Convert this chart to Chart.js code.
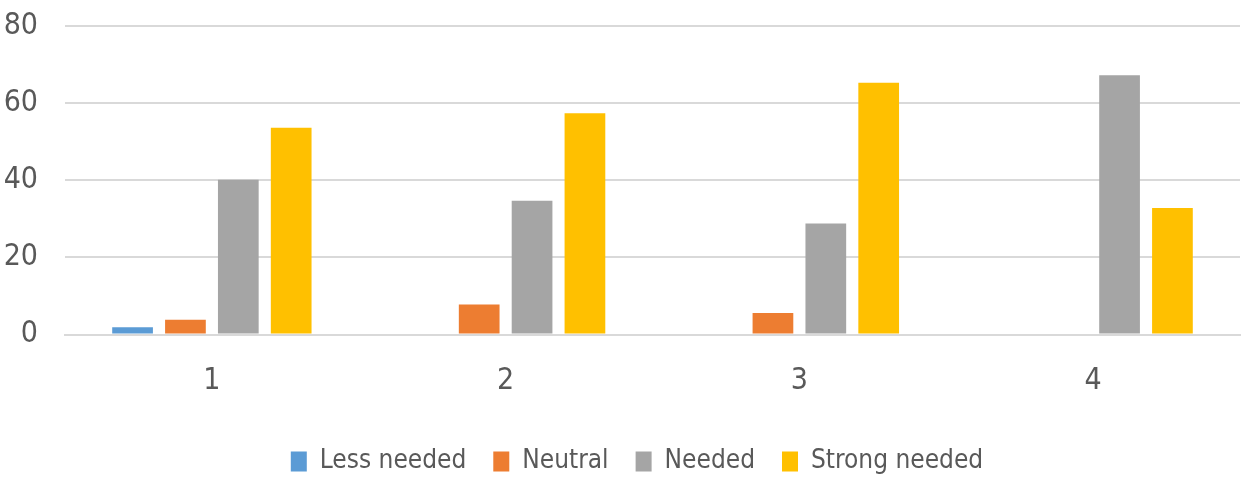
<!DOCTYPE html>
<html>
<head>
<meta charset="utf-8">
<script src="https://cdn.jsdelivr.net/npm/chart.js@4/dist/chart.umd.min.js"></script>
<style>
  html, body { margin: 0; padding: 0; background: #fff; }
  #wrap { width: 1242px; height: 477px; position: relative; }
</style>
</head>
<body>
<div id="wrap"><canvas id="chart"></canvas></div>
<script>
// data
const categories = ['1', '2', '3', '4'];
const seriesNames = ['Less needed', 'Neutral', 'Needed', 'Strong needed'];
const lessNeeded = [1.9, 0, 0, 0];
const neutral = [3.8, 7.8, 5.6, 0];
const needed = [40.1, 34.7, 28.8, 67.2];
const strongNeeded = [53.6, 57.4, 65.3, 32.8];
const yTicks = [0, 20, 40, 60, 80];

const colors = ['#5B9BD5', '#ED7D31', '#A5A5A5', '#FFC000'];
const textColor = '#595959';
const gridColor = '#d9d9d9';
const family = "'Liberation Sans Narrow', 'DejaVu Sans Condensed', 'Open Sans', sans-serif";

Chart.defaults.font.family = family;
Chart.defaults.color = textColor;

const values = [lessNeeded, neutral, needed, strongNeeded];

// legend sits a little right of centre in the original
const nudgeLegend = {
  id: 'nudgeLegend',
  afterLayout(chart) { if (chart.legend) chart.legend.left += 34; },
};

new Chart(document.getElementById('chart'), {
  type: 'bar',
  data: {
    labels: categories,
    datasets: values.map((data, i) => ({
      label: seriesNames[i],
      data,
      backgroundColor: colors[i],
      borderWidth: 0,
      categoryPercentage: 0.72,
      barPercentage: 0.77,
    })),
  },
  plugins: [nudgeLegend],
  options: {
    responsive: true, maintainAspectRatio: false, animation: false,
    layout: { padding: { top: 26, right: 2, left: 0, bottom: -7.5 } },
    plugins: {
      tooltip: { enabled: false },
      legend: {
        position: 'bottom',
        labels: { boxWidth: 16, boxHeight: 20, padding: 27, font: { size: 26 }, color: textColor },
      },
    },
    scales: {
      x: {
        grid: { display: false, drawTicks: false },
        border: { display: true, color: gridColor, width: 2 },
        ticks: { padding: 29, font: { size: 30 }, color: textColor },
        afterFit: s => { s.height = 87; },
      },
      y: {
        min: 0, max: 80,
        afterBuildTicks: s => { s.ticks = yTicks.map(v => ({ value: v })); },
        grid: { color: gridColor, lineWidth: 2, drawTicks: false },
        border: { display: false },
        ticks: { padding: 27, font: { size: 30 }, color: textColor },
        afterFit: s => { s.width = 65; s.paddingTop = 0; s.paddingBottom = 0; },
      },
    },
  },
});
</script>
</body>
</html>
